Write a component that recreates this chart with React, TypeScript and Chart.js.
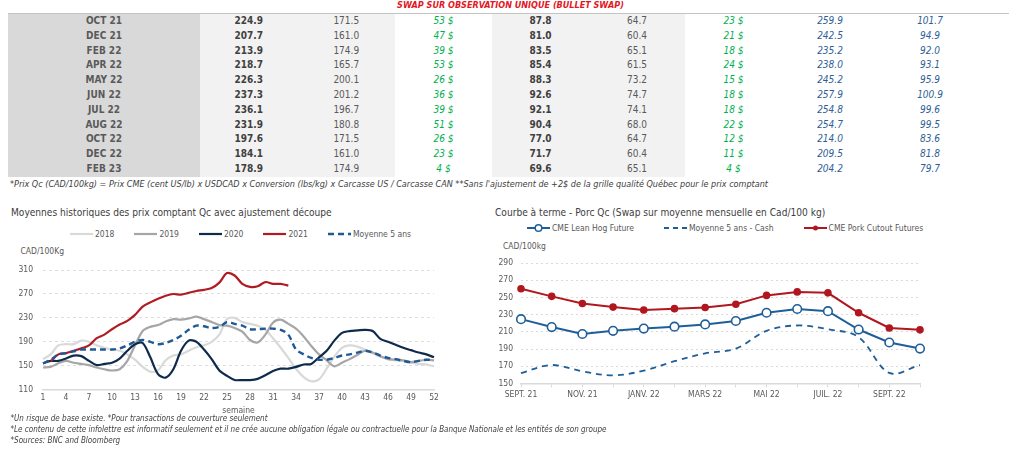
import React, { useEffect, useRef } from "react";
import { Chart, registerables } from "chart.js";

Chart.register(...registerables);

const FONT = '"DejaVu Sans Condensed", "Liberation Sans", Arial, sans-serif';
Chart.defaults.font.family = FONT;

// ---------------- Table data ----------------
const tableTitle = "SWAP SUR OBSERVATION UNIQUE (BULLET SWAP)";
const tableMonths = ["OCT 21", "DEC 21", "FEB 22", "APR 22", "MAY 22", "JUN 22", "JUL 22", "AUG 22", "OCT 22", "DEC 22", "FEB 23"];
const qcPrice = [224.9, 207.7, 213.9, 218.7, 226.3, 237.3, 236.1, 231.9, 197.6, 184.1, 178.9];
const qcAverage = [171.5, 161.0, 174.9, 165.7, 200.1, 201.2, 196.7, 180.8, 171.5, 161.0, 174.9];
const qcSpread = [53, 47, 39, 53, 26, 36, 39, 51, 26, 23, 4];
const cmePrice = [87.8, 81.0, 83.5, 85.4, 88.3, 92.6, 92.1, 90.4, 77.0, 71.7, 69.6];
const cmeAverage = [64.7, 60.4, 65.1, 61.5, 73.2, 74.7, 74.1, 68.0, 64.7, 60.4, 65.1];
const cmeSpread = [23, 21, 18, 24, 15, 18, 18, 22, 12, 11, 4];
const cutoutQc = [259.9, 242.5, 235.2, 238.0, 245.2, 257.9, 254.8, 254.7, 214.0, 209.5, 204.2];
const cutoutCme = [101.7, 94.9, 92.0, 93.1, 95.9, 100.9, 99.6, 99.5, 83.6, 81.8, 79.7];

const tableNote = "*Prix Qc (CAD/100kg) = Prix CME (cent US/lb) x USDCAD x Conversion (lbs/kg) x Carcasse US / Carcasse CAN **Sans l'ajustement de +2$ de la grille qualité Québec pour le prix comptant";

// ---------------- Left chart data ----------------
const leftTitle = "Moyennes historiques des prix comptant Qc avec ajustement découpe";
const leftUnit = "CAD/100Kg";
const weeks = ["1", "2", "3", "4", "5", "6", "7", "8", "9", "10", "11", "12", "13", "14", "15", "16", "17", "18", "19", "20", "21", "22", "23", "24", "25", "26", "27", "28", "29", "30", "31", "32", "33", "34", "35", "36", "37", "38", "39", "40", "41", "42", "43", "44", "45", "46", "47", "48", "49", "50", "51", "52"];
const y2018 = [161, 169, 184, 186, 186, 192, 190, 184, 180, 177, 175, 169, 160, 148, 140, 142, 159, 167, 169, 175, 181, 184, 190, 202, 228, 230, 223, 220, 217, 210, 196, 180, 163, 145, 131, 124, 127, 145, 165, 180, 184, 182, 177, 171, 165, 161, 159, 158, 155, 153, 152, 149];
const y2019 = [147, 148, 154, 158, 155, 153, 151, 147, 144, 142, 144, 158, 184, 208, 215, 218, 224, 228, 227, 229, 232, 228, 223, 218, 217, 213, 207, 193, 189, 202, 222, 227, 220, 212, 199, 183, 169, 159, 149, 155, 161, 168, 175, 172, 166, 161, 160, 159, 156, 158, 160, 159];
const y2020 = [154, 158, 158, 162, 167, 166, 158, 151, 153, 155, 162, 175, 186, 188, 164, 136, 130, 144, 175, 192, 190, 177, 161, 142, 133, 126, 126, 126, 128, 134, 141, 145, 145, 148, 152, 153, 164, 175, 192, 205, 208, 209, 210, 208, 195, 190, 185, 180, 176, 172, 169, 164];
const y2021 = [null, 157, 169, 171, 175, 179, 184, 196, 202, 211, 219, 225, 235, 249, 256, 262, 267, 270, 269, 272, 275, 277, 280, 289, 305, 301, 287, 282, 283, 290, 287, 287, 284, null, null, null, null, null, null, null, null, null, null, null, null, null, null, null, null, null, null, null];
const avg5 = [154, 160, 169, 171, 174, 177, 177, 177, 177, 177, 179, 184, 190, 193, 190, 186, 188, 193, 200, 210, 217, 216, 213, 215, 223, 220, 217, 211, 211, 212, 212, 210, 202, 177, 169, 163, 160, 160, 163, 167, 169, 172, 175, 172, 167, 163, 161, 158, 156, 158, 160, 159];
const leftLabels = ["2018", "2019", "2020", "2021", "Moyenne 5 ans"];

// ---------------- Right chart data ----------------
const rightTitle = "Courbe à terme - Porc Qc (Swap sur moyenne mensuelle en Cad/100 kg)";
const rightUnit = "CAD/100kg";
const forwardMonths = ["SEPT. 21", "OCT. 21", "NOV. 21", "DÉC. 21", "JANV. 22", "FÉVR. 22", "MARS 22", "AVR. 22", "MAI 22", "JUIN 22", "JUIL. 22", "AOÛT 22", "SEPT. 22", "OCT. 22"];
const leanHog = [224.8, 215.6, 207.5, 211.2, 213.8, 216.0, 218.6, 222.6, 232.2, 236.6, 234.0, 212.7, 197.6, 190.5];
const avgCash = [162.0, 171.4, 164.0, 159.3, 164.8, 175.8, 185.0, 190.5, 211.2, 217.4, 213.0, 203.8, 162.2, 171.4];
const porkCutout = [260.2, 251.3, 242.9, 238.8, 235.5, 237.0, 238.4, 242.1, 252.4, 256.5, 255.4, 232.2, 214.5, 212.3];
const rightLabels = ["CME Lean Hog Future", "Moyenne 5 ans - Cash", "CME Pork Cutout Futures"];

const footNotes = [
  "*Un risque de base existe. *Pour transactions de couverture seulement",
  "*Le contenu de cette infolettre est informatif seulement et il ne crée aucune obligation légale ou contractuelle pour la Banque Nationale et les entités de son groupe",
  "*Sources: BNC and Bloomberg",
];

// ---------------- Styles ----------------
const leftStyles = [
  { color: "#d9d9d9", dash: [] as number[], width: 2.2, order: 4 },
  { color: "#a6a6a6", dash: [] as number[], width: 2.2, order: 3 },
  { color: "#0e2a4c", dash: [] as number[], width: 2.2, order: 2 },
  { color: "#b01c22", dash: [] as number[], width: 2.2, order: 1 },
  { color: "#1f5a96", dash: [6, 4], width: 2.4, order: 0 },
];
const BLUE = "#1f5f99";
const RED = "#b0171f";

const colWidths = [192, 97.5, 97.5, 97, 97, 96, 97, 96, 104, 27];
const cellStyles = [
  { bg: "#d9d9d9", color: "#595959", weight: 700, italic: false },
  { bg: "#f2f2f2", color: "#404040", weight: 700, italic: false },
  { bg: "#f2f2f2", color: "#595959", weight: 400, italic: false },
  { bg: "#ffffff", color: "#00b050", weight: 400, italic: true },
  { bg: "#f2f2f2", color: "#404040", weight: 700, italic: false },
  { bg: "#f2f2f2", color: "#595959", weight: 400, italic: false },
  { bg: "#ffffff", color: "#00b050", weight: 400, italic: true },
  { bg: "#ffffff", color: "#2e5e95", weight: 400, italic: true },
  { bg: "#ffffff", color: "#2e5e95", weight: 400, italic: true },
  { bg: "#ffffff", color: "#2e5e95", weight: 400, italic: false },
];

function Txt(props: { x: number; cy: number; size: number; color?: string; bold?: boolean; italic?: boolean; children: any }) {
  const h = 14;
  return (
    <div
      style={{
        position: "absolute",
        left: props.x,
        top: props.cy - h / 2,
        height: h,
        lineHeight: h + "px",
        fontSize: props.size,
        color: props.color || "#404040",
        fontWeight: props.bold ? 700 : 400,
        fontStyle: props.italic ? "italic" : "normal",
        whiteSpace: "nowrap",
        fontFamily: FONT,
      }}
    >
      {props.children}
    </div>
  );
}

function Table() {
  const rowH = 14.8;
  return (
    <div style={{ position: "absolute", left: 8, top: 12.5, width: 1001 }}>
      <div style={{ height: 1.5, background: "#c4c4c4" }} />
      {tableMonths.map((m, i) => {
        const cells = [
          m,
          qcPrice[i].toFixed(1),
          qcAverage[i].toFixed(1),
          qcSpread[i] + " $",
          cmePrice[i].toFixed(1),
          cmeAverage[i].toFixed(1),
          cmeSpread[i] + " $",
          cutoutQc[i].toFixed(1),
          cutoutCme[i].toFixed(1),
          "",
        ];
        return (
          <div key={m + i} style={{ display: "flex", height: rowH }}>
            {cells.map((c, j) => (
              <div
                key={j}
                style={{
                  width: colWidths[j],
                  flex: "none",
                  height: rowH,
                  lineHeight: rowH + "px",
                  background: cellStyles[j].bg,
                  color: cellStyles[j].color,
                  fontWeight: cellStyles[j].weight,
                  fontStyle: cellStyles[j].italic ? "italic" : "normal",
                  fontSize: 10,
                  textAlign: "center",
                  whiteSpace: "nowrap",
                }}
              >
                {c}
              </div>
            ))}
          </div>
        );
      })}
    </div>
  );
}

function LineSwatch(props: { color: string; dash?: number[]; width?: number; marker?: "open" | "dot" }) {
  return (
    <svg width={23} height={10} style={{ display: "block", flex: "none" }}>
      <line x1={0} y1={5} x2={23} y2={5} stroke={props.color} strokeWidth={props.width || 2} strokeDasharray={props.dash && props.dash.length ? props.dash.join(",") : undefined} />
      {props.marker === "open" ? <circle cx={11.5} cy={5} r={3.3} fill="#fff" stroke={props.color} strokeWidth={1.5} /> : null}
      {props.marker === "dot" ? <circle cx={11.5} cy={5} r={2.5} fill={props.color} /> : null}
    </svg>
  );
}

function LeftChart() {
  const ref = useRef<HTMLCanvasElement>(null);
  useEffect(() => {
    const seriesData = [y2018, y2019, y2020, y2021, avg5];
    const chart = new Chart(ref.current!, {
      type: "line",
      data: {
        labels: weeks,
        datasets: seriesData.map((d, i) => ({
          label: leftLabels[i],
          data: d,
          borderColor: leftStyles[i].color,
          borderWidth: leftStyles[i].width,
          borderDash: leftStyles[i].dash,
          pointRadius: 0,
          tension: 0.3,
          fill: false,
          order: leftStyles[i].order,
        })),
      },
      options: {
        animation: false,
        responsive: false,
        maintainAspectRatio: false,
        layout: { padding: { left: 0, right: 12, top: 13, bottom: 0 } },
        plugins: { legend: { display: false }, tooltip: { enabled: false }, title: { display: false } },
        scales: {
          x: {
            ticks: {
              autoSkip: false,
              maxRotation: 0,
              padding: 3,
              color: "#595959",
              font: { size: 8.5 },
              callback: (_v: any, i: number) => (i % 3 === 0 ? weeks[i] : ""),
            },
            grid: { display: false, drawTicks: false },
            border: { color: "#d9d9d9", width: 1.5 },
            title: { display: true, text: "semaine", color: "#595959", font: { size: 8.5 }, padding: { top: 0, bottom: 0 } },
          },
          y: {
            min: 110,
            max: 310,
            ticks: { stepSize: 40, padding: 10, color: "#595959", font: { size: 8.5 } },
            grid: { color: "#dedede", drawTicks: false },
            border: { display: false, dash: [3, 3] },
            afterFit: (s: any) => {
              s.width = 43;
            },
          },
        },
      },
    } as any);
    return () => chart.destroy();
  }, []);
  return <canvas ref={ref} width={446} height={161} style={{ position: "absolute", left: 0, top: 255, width: 446, height: 161 }} />;
}

function RightChart() {
  const ref = useRef<HTMLCanvasElement>(null);
  useEffect(() => {
    const chart = new Chart(ref.current!, {
      type: "line",
      data: {
        labels: forwardMonths,
        datasets: [
          {
            label: rightLabels[0],
            data: leanHog,
            borderColor: BLUE,
            borderWidth: 2,
            pointRadius: 4.3,
            pointBackgroundColor: "#ffffff",
            pointBorderColor: BLUE,
            pointBorderWidth: 1.6,
            tension: 0,
            order: 0,
          },
          {
            label: rightLabels[1],
            data: avgCash,
            borderColor: BLUE,
            borderWidth: 1.8,
            borderDash: [6, 5],
            pointRadius: 0,
            tension: 0.35,
            order: 2,
          },
          {
            label: rightLabels[2],
            data: porkCutout,
            borderColor: RED,
            borderWidth: 2,
            pointRadius: 2.8,
            pointBackgroundColor: RED,
            pointBorderColor: RED,
            tension: 0,
            order: 1,
          },
        ],
      },
      options: {
        animation: false,
        responsive: false,
        maintainAspectRatio: false,
        layout: { padding: { left: 0, right: 10, top: 9.3, bottom: 0 } },
        plugins: { legend: { display: false }, tooltip: { enabled: false }, title: { display: false } },
        scales: {
          x: {
            ticks: {
              autoSkip: false,
              maxRotation: 0,
              padding: 2.2,
              color: "#595959",
              font: { size: 8.5 },
              callback: (_v: any, i: number) => (i % 2 === 0 ? forwardMonths[i] : ""),
            },
            grid: { display: true, drawOnChartArea: false, drawTicks: true, tickLength: 4, color: "#d9d9d9" },
            border: { color: "#d9d9d9", width: 1.5 },
          },
          y: {
            min: 150,
            max: 290,
            ticks: { stepSize: 20, padding: 8, color: "#595959", font: { size: 8.5 } },
            grid: { color: "#d9d9d9", drawTicks: false },
            border: { display: false, dash: [2, 3] },
            afterFit: (s: any) => {
              s.width = 31;
            },
          },
        },
      },
    } as any);
    return () => chart.destroy();
  }, []);
  return <canvas ref={ref} width={440} height={152} style={{ position: "absolute", left: 490, top: 250, width: 440, height: 152 }} />;
}

export default function App() {
  return (
    <div style={{ position: "absolute", left: 0, top: 0, width: 1024, height: 467, background: "#ffffff", overflow: "hidden", fontFamily: FONT }}>
      <div style={{ position: "absolute", left: 0, width: 1021, top: 0, height: 11, lineHeight: "11px", textAlign: "center", fontSize: 9, fontWeight: 700, fontStyle: "italic", color: "#e3171f", whiteSpace: "nowrap" }}>
        {tableTitle}
      </div>
      <Table />
      <Txt x={10} cy={183.5} size={9} italic color="#404040">{tableNote}</Txt>

      <Txt x={11} cy={213.3} size={10.1} color="#404040">{leftTitle}</Txt>
      <div style={{ position: "absolute", left: 70, top: 226.5, height: 14, display: "flex", alignItems: "center", gap: 20 }}>
        {leftLabels.map((l, i) => (
          <div key={l} style={{ display: "flex", alignItems: "center" }}>
            <LineSwatch color={leftStyles[i].color} dash={leftStyles[i].dash} width={leftStyles[i].width} />
            <span style={{ marginLeft: 2, fontSize: 8.5, color: "#595959", whiteSpace: "nowrap" }}>{l}</span>
          </div>
        ))}
      </div>
      <Txt x={20.5} cy={250.7} size={8.5} color="#595959">{leftUnit}</Txt>
      <LeftChart />

      <Txt x={495} cy={213.3} size={10.1} color="#404040">{rightTitle}</Txt>
      <div style={{ position: "absolute", left: 527, top: 221, height: 14, display: "flex", alignItems: "center", gap: 30 }}>
        <div style={{ display: "flex", alignItems: "center" }}>
          <LineSwatch color={BLUE} marker="open" />
          <span style={{ marginLeft: 2, fontSize: 8.5, color: "#595959", whiteSpace: "nowrap" }}>{rightLabels[0]}</span>
        </div>
        <div style={{ display: "flex", alignItems: "center" }}>
          <LineSwatch color={BLUE} dash={[5, 4]} width={1.8} />
          <span style={{ marginLeft: 2, fontSize: 8.5, color: "#595959", whiteSpace: "nowrap" }}>{rightLabels[1]}</span>
        </div>
        <div style={{ display: "flex", alignItems: "center" }}>
          <LineSwatch color={RED} marker="dot" />
          <span style={{ marginLeft: 2, fontSize: 8.5, color: "#595959", whiteSpace: "nowrap" }}>{rightLabels[2]}</span>
        </div>
      </div>
      <Txt x={503} cy={246} size={8.5} color="#595959">{rightUnit}</Txt>
      <RightChart />

      {footNotes.map((n, i) => (
        <Txt key={i} x={10.5} cy={419.3 + i * 11} size={8} italic color="#404040">{n}</Txt>
      ))}
    </div>
  );
}
